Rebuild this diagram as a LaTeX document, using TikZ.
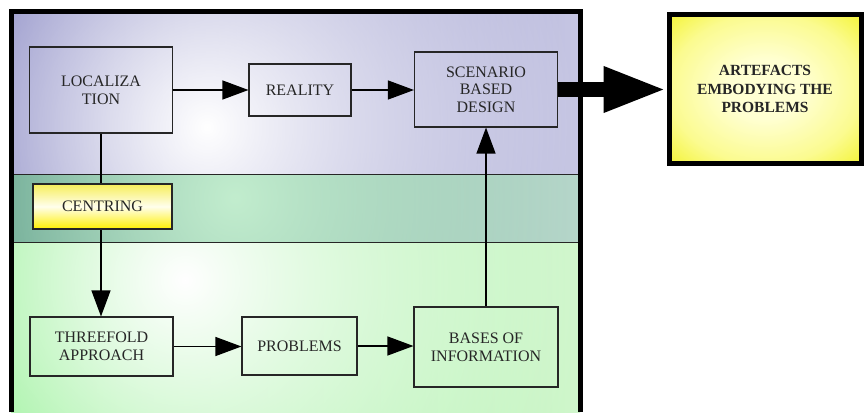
\documentclass[tikz,border=0pt]{standalone}
\usepackage{fontspec}
\setmainfont{Liberation Serif}
\usetikzlibrary{arrows.meta,fadings}

% palette
\definecolor{ink}{HTML}{262626}
\definecolor{topL}{HTML}{6A6AB4}
\definecolor{topR}{HTML}{C6C6E3}
\definecolor{midL}{HTML}{579685}
\definecolor{midR}{HTML}{B6D6CA}
\definecolor{midGlow}{HTML}{C2EDCE}
\definecolor{lowL}{HTML}{72EC72}
\definecolor{lowR}{HTML}{D0F6CC}
\definecolor{centTop}{HTML}{F6EE5A}
\definecolor{centMid}{HTML}{FFFEEC}
\definecolor{centBot}{HTML}{FFF000}
\definecolor{artCore}{HTML}{FFFFD2}
\definecolor{artSoft}{HTML}{FBFB90}
\definecolor{artEdge}{HTML}{EFEF00}

% soft light spot for the bands
\tikzfading[name=glow, inner color=transparent!0, outer color=transparent!100]

% yellow box with a pale centre
\pgfdeclareradialshading{artglow}{\pgfpointorigin}{%
  color(0bp)=(artCore); color(10bp)=(artCore); color(25bp)=(artSoft);
  color(42bp)=(artEdge); color(50bp)=(artEdge)}

\pgfdeclarelayer{bg}
\pgfdeclarelayer{links}
\pgfdeclarelayer{fg}
\pgfsetlayers{bg,links,main,fg}

\begin{document}
\begin{tikzpicture}[x=1pt,y=-1pt,
  box/.style={draw=ink, line width=1.1pt, align=center, inner sep=0pt,
    text=ink, font=\fontsize{16}{18}\selectfont},
  link/.style={draw=black, line width=1.2pt,
    -{Triangle[length=26pt,width=19pt]}},
  bigflow/.style={draw=black, line width=15pt,
    -{Triangle[length=63pt,width=42pt]}},
  divider/.style={draw=ink, line width=1pt},
  frame/.style={draw=black, line width=5pt, line join=miter},
]
\useasboundingbox (0,0) rectangle (864,412);

% ---- shaded bands of the framed panel ----
\begin{pgfonlayer}{bg}
  \shade[left color=topL, right color=topR] (11,12) rectangle (580,174);
  \begin{scope}
    \clip (11,12) rectangle (580,174);
    \fill[white, path fading=glow] (207,127) circle[radius=370pt];
  \end{scope}
  \shade[left color=midL, right color=midR] (11,174) rectangle (580,242);
  \begin{scope}
    \clip (11,174) rectangle (580,242);
    \fill[midGlow, path fading=glow] (235,198) circle[radius=340pt];
  \end{scope}
  \shade[left color=lowL, right color=lowR] (11,242) rectangle (580,412);
  \begin{scope}
    \clip (11,242) rectangle (580,412);
    \fill[white, path fading=glow] (185,280) circle[radius=400pt];
  \end{scope}
  \path[divider] (11,174) -- (580,174);
  \path[divider] (11,242) -- (580,242);
\end{pgfonlayer}

% ---- boxes ----
\node[box, minimum width=143pt, minimum height=86pt] (loc) at (101,90)
  {LOCALIZA\\TION};
\node[box, minimum width=102pt, minimum height=52pt] (real) at (300,90)
  {REALITY};
\node[box, minimum width=143pt, minimum height=75pt,
  font=\fontsize{16}{17.5}\selectfont] (sbd) at (486,89.5)
  {SCENARIO\\BASED\\DESIGN};
\node[box, minimum width=139pt, minimum height=45pt,
  top color=centTop, bottom color=centBot, middle color=centMid]
  (cent) at (102.5,206.5) {CENTRING};
\node[box, minimum width=143pt, minimum height=59pt] (three) at (101.5,346.5)
  {THREEFOLD\\APPROACH};
\node[box, minimum width=115pt, minimum height=58pt] (prob) at (299.5,346)
  {PROBLEMS};
\node[box, minimum width=144pt, minimum height=80pt] (bases) at (486,347)
  {BASES OF\\INFORMATION};
\node[draw=black, line width=5pt, shading=artglow, align=center,
  minimum width=192pt, minimum height=149pt, inner sep=0pt, text=ink,
  font=\fontsize{15.5}{18.7}\selectfont\bfseries] (art) at (765,89)
  {ARTEFACTS\\EMBODYING THE\\PROBLEMS};

% ---- connectors ----
\begin{pgfonlayer}{links}
  \path[link] (loc.east) -- (real.west);
  \path[link] (real.east) -- (real.east -| sbd.west);
  \path[link] (loc.south) -- (loc.south |- three.north);
  \path[link] (three.east) -- (three.east -| prob.west);
  \path[link] (prob.east) -- (prob.east -| bases.west);
  \path[link] (bases.north) -- (bases.north |- sbd.south);
  \path[bigflow] (sbd.east) -- (sbd.east -| art.west);
\end{pgfonlayer}

% ---- heavy outline of the panel ----
\begin{pgfonlayer}{fg}
  \path[frame] (11,412) -- (11,12) -- (580,12) -- (580,412);
\end{pgfonlayer}
\end{tikzpicture}
\end{document}
